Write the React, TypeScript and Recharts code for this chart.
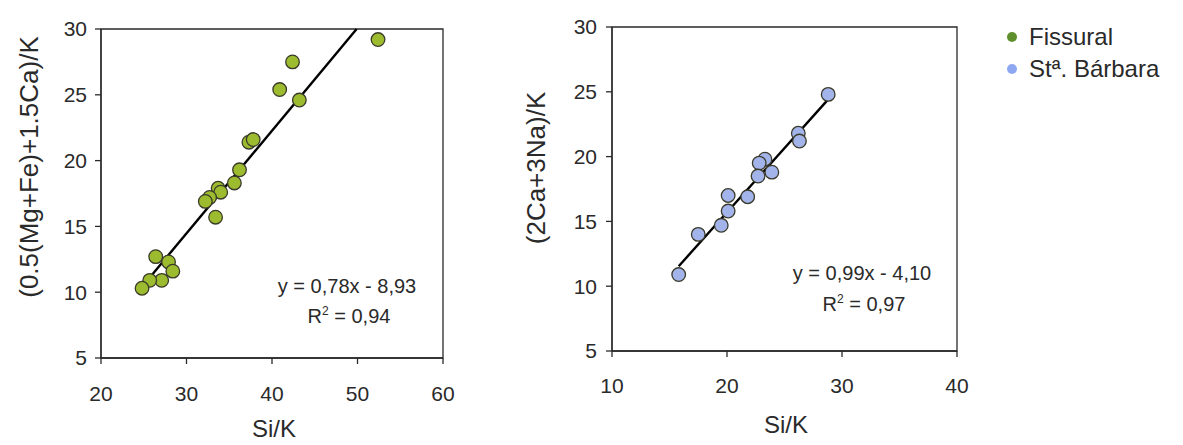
import React from 'react';
import { ScatterChart, Scatter, XAxis, YAxis, ReferenceLine, ReferenceArea, Customized, Legend } from 'recharts';

// Fissural (left panel)
const fissuralSiK = [52.4, 42.4, 40.9, 43.2, 37.3, 37.8, 36.2, 35.6, 33.7, 34.0, 32.7, 32.2, 33.4, 26.4, 27.9, 28.4, 27.1, 25.7, 24.8];
const fissuralMgFeCa = [29.2, 27.5, 25.4, 24.6, 21.4, 21.6, 19.3, 18.3, 17.9, 17.6, 17.2, 16.9, 15.7, 12.7, 12.3, 11.6, 10.9, 10.9, 10.3];
// St. Barbara (right panel)
const barbaraSiK = [28.8, 26.2, 26.3, 23.3, 22.8, 23.9, 22.7, 20.1, 21.8, 20.1, 19.5, 17.5, 15.8];
const barbaraCaNa = [24.8, 21.8, 21.2, 19.8, 19.5, 18.8, 18.5, 17.0, 16.9, 15.8, 14.7, 14.0, 10.9];

const leftXTicks = [20, 30, 40, 50, 60];
const rightXTicks = [10, 20, 30, 40];
const yTicks = [5, 10, 15, 20, 25, 30];

// regression lines: slope, intercept, x-range
const leftFit = { slope: 0.78, intercept: -8.93, x0: 25.0, x1: 49.9 };
const rightFit = { slope: 0.99, intercept: -4.10, x0: 15.8, x1: 28.8 };

const seriesNames = ['Fissural', 'St\u00aa. B\u00e1rbara'];
const legendColors = ['#5f8f2c', '#8ea9f2'];

const leftData = fissuralSiK.map((x, i) => ({ x, y: fissuralMgFeCa[i] }));
const rightData = barbaraSiK.map((x, i) => ({ x, y: barbaraCaNa[i] }));

const FONT = '"Liberation Sans", Arial, sans-serif';
const AX = '#2a2a2a';

const makeDot = (fill: string) => (props: any) => (
  <circle cx={props.cx} cy={props.cy} r={6.8} fill={fill} stroke="#3a3a2a" strokeWidth={1.3} />
);

const tickStyle = { fontSize: 21, fill: '#2a2a2a', fontFamily: FONT };

export default function App() {
  return (
    <div style={{ position: 'absolute', left: 0, top: 0, width: 1183, height: 445, background: '#fff', fontFamily: FONT }}>
      <div style={{ position: 'absolute', left: 0, top: 0 }}>
        <ScatterChart width={470} height={445} margin={{ top: 29, right: 27, bottom: 27, left: 41 }}>
          <XAxis type="number" dataKey="x" domain={[20, 60]} ticks={leftXTicks} tickSize={6} tickMargin={22}
            stroke={AX} strokeWidth={1.3} tick={tickStyle} height={60} allowDataOverflow />
          <YAxis type="number" dataKey="y" domain={[5, 30]} ticks={yTicks} tickSize={6} tickMargin={8}
            stroke={AX} strokeWidth={1.3} tick={tickStyle} width={60} allowDataOverflow />
          <ReferenceArea x1={20} x2={60} y1={5} y2={30} fill="none" stroke={AX} strokeWidth={1.3} />
          <ReferenceLine segment={[
            { x: leftFit.x0, y: leftFit.slope * leftFit.x0 + leftFit.intercept },
            { x: leftFit.x1, y: leftFit.slope * leftFit.x1 + leftFit.intercept },
          ]} stroke="#000" strokeWidth={2.4} />
          <Scatter name={seriesNames[0]} data={leftData} shape={makeDot('#9cbb2f')} isAnimationActive={false} />
          <Customized component={() => (
            <g fontFamily={FONT} fill="#2a2a2a">
              <text x={347} y={293} fontSize={20} textAnchor="middle">y = 0,78x - 8,93</text>
              <text x={349} y={323} fontSize={20} textAnchor="middle">R<tspan dy={-8} fontSize={12}>2</tspan><tspan dy={8}> = 0,94</tspan></text>
              <text x={274} y={437} fontSize={24} textAnchor="middle">Si/K</text>
              <text x={38} y={167} fontSize={26} textAnchor="middle" transform="rotate(-90 38 167)">(0.5(Mg+Fe)+1.5Ca)/K</text>
            </g>
          )} />
        </ScatterChart>
      </div>
      <div style={{ position: 'absolute', left: 520, top: 0 }}>
        <ScatterChart width={663} height={445} margin={{ top: 27, right: 226, bottom: 34, left: 32 }}>
          <XAxis type="number" dataKey="x" domain={[10, 40]} ticks={rightXTicks} tickSize={6} tickMargin={21}
            stroke={AX} strokeWidth={1.3} tick={tickStyle} height={60} allowDataOverflow />
          <YAxis type="number" dataKey="y" domain={[5, 30]} ticks={yTicks} tickSize={6} tickMargin={9}
            stroke={AX} strokeWidth={1.3} tick={tickStyle} width={60} allowDataOverflow />
          <ReferenceArea x1={10} x2={40} y1={5} y2={30} fill="none" stroke={AX} strokeWidth={1.3} />
          <ReferenceLine segment={[
            { x: rightFit.x0, y: rightFit.slope * rightFit.x0 + rightFit.intercept },
            { x: rightFit.x1, y: rightFit.slope * rightFit.x1 + rightFit.intercept },
          ]} stroke="#000" strokeWidth={2.4} />
          <Scatter name={seriesNames[1]} data={rightData} shape={makeDot('#a3b4ea')} isAnimationActive={false} />
          <Legend layout="vertical" align="center" verticalAlign="middle"
            wrapperStyle={{ position: 'absolute', left: 487, top: 21, width: 176, height: 70 }}
            content={() => (
              <div style={{ fontFamily: FONT, fontSize: 24, color: '#2a2a2a', lineHeight: '32px' }}>
                {seriesNames.map((n, i) => (
                  <div key={n} style={{ display: 'flex', alignItems: 'center' }}>
                    <span style={{ display: 'inline-block', width: 10, height: 10, borderRadius: 5, background: legendColors[i], marginRight: 12 }} />
                    <span>{n}</span>
                  </div>
                ))}
              </div>
            )} />
          <Customized component={() => (
            <g fontFamily={FONT} fill="#2a2a2a">
              <text x={342} y={280} fontSize={20} textAnchor="middle">y = 0,99x - 4,10</text>
              <text x={344} y={311} fontSize={20} textAnchor="middle">R<tspan dy={-8} fontSize={12}>2</tspan><tspan dy={8}> = 0,97</tspan></text>
              <text x={266} y={433} fontSize={24} textAnchor="middle">Si/K</text>
              <text x={25} y={168} fontSize={26} textAnchor="middle" transform="rotate(-90 25 168)">(2Ca+3Na)/K</text>
            </g>
          )} />
        </ScatterChart>
      </div>
    </div>
  );
}
